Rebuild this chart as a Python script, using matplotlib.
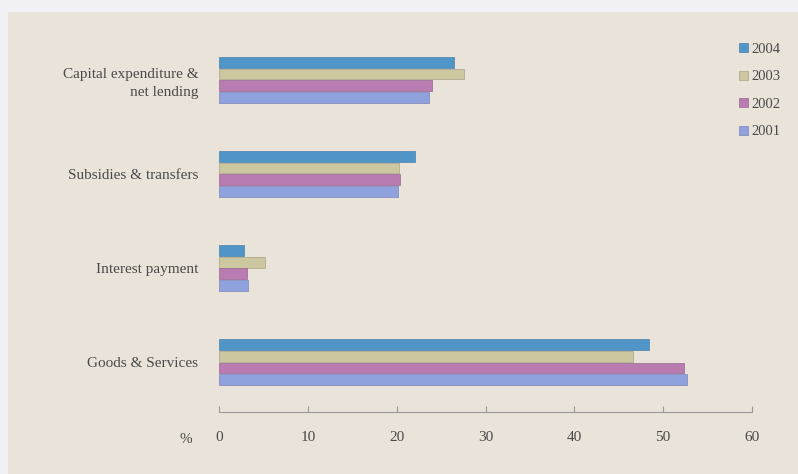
import numpy as np
import matplotlib.pyplot as plt
from matplotlib.patches import Rectangle

# data (%)
categories = ['Goods & Services', 'Interest payment', 'Subsidies & transfers',
              'Capital expenditure &\nnet lending']
years = ['2004', '2003', '2002', '2001']
vals_2004 = [48.4, 2.8, 22.1, 26.5]
vals_2003 = [46.6, 5.2, 20.3, 27.6]
vals_2002 = [52.3, 3.2, 20.4, 24.0]
vals_2001 = [52.7, 3.3, 20.2, 23.6]
x_ticks = [0, 10, 20, 30, 40, 50, 60]

series = [vals_2004, vals_2003, vals_2002, vals_2001]
colors = ['#5095c8', '#cdc7a0', '#b87cb0', '#90a2de']
edges = ['#4a82ad', '#a8a38a', '#9a6494', '#7886b8']

bg = '#e9e3d9'
text_c = '#4a4a4a'
plt.rcParams['font.family'] = ['Liberation Serif', 'DejaVu Serif']

fig = plt.figure(figsize=(7.98, 4.74), dpi=100, facecolor=bg)
# pale strip at top and left edge of the scan
fig.patches.append(Rectangle((0, 1 - 12 / 474), 1, 12 / 474, transform=fig.transFigure,
                             facecolor='#f1f0f4', edgecolor='none', zorder=0))
fig.patches.append(Rectangle((0, 0), 8 / 798, 1, transform=fig.transFigure,
                             facecolor='#f1f0f4', edgecolor='none', zorder=0))

ax = fig.add_axes([219 / 798, 62 / 474, (752 - 219) / 798, (412 - 45) / 474])
ax.set_facecolor(bg)

y = np.arange(len(categories))
h = 0.125
offsets = [1.5 * h, 0.5 * h, -0.5 * h, -1.5 * h]
for vals, off, c, ec, yr in zip(series, offsets, colors, edges, years):
    ax.barh(y + off, vals, height=h * 0.92, color=c, edgecolor=ec, linewidth=0.5, label=yr)

ax.set_xlim(0, 60)
ax.set_ylim(-0.53, 3.37)
ax.set_xticks(x_ticks)
ax.set_xticklabels([str(t) for t in x_ticks], fontsize=11, color=text_c)
ax.set_yticks(y)
ax.set_yticklabels(categories, fontsize=11, color=text_c, linespacing=1.45)
ax.tick_params(axis='y', length=0, pad=15)
ax.tick_params(axis='x', length=4, direction='in', color='#999999', pad=14)

for s in ['top', 'right', 'left']:
    ax.spines[s].set_visible(False)
ax.spines['bottom'].set_color('#999999')
ax.spines['bottom'].set_linewidth(0.8)

ax.text(-0.063, -0.058, '%', transform=ax.transAxes, fontsize=11, color=text_c,
        ha='center', va='top')

leg = ax.legend(loc='upper right', bbox_to_anchor=(1.078, 1.042), frameon=False,
                fontsize=10.5, handlelength=0.6, handleheight=0.6, handletextpad=0.25,
                labelspacing=1.0, labelcolor=text_c)

fig.savefig('out.png', dpi=100, facecolor=bg)
